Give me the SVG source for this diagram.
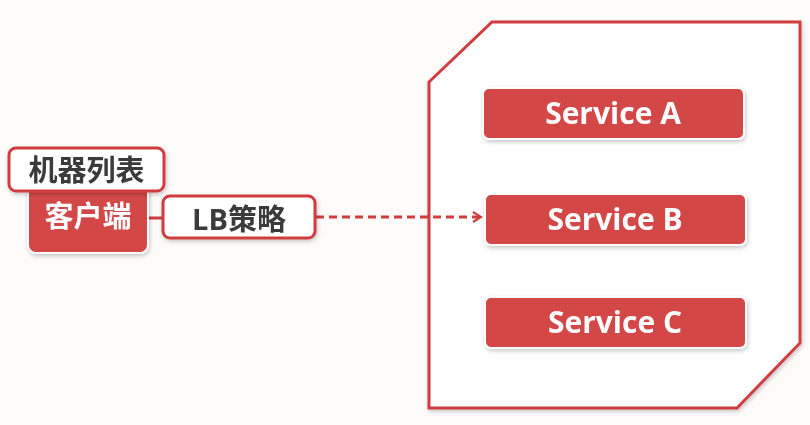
<svg xmlns="http://www.w3.org/2000/svg" width="810" height="425" viewBox="0 0 810 425">
  <style>
    .svc rect { fill: #d44646; stroke: #ffffff; stroke-width: 2; }
    .svc text { fill: #ffffff; font-family: "Open Sans", "Noto Sans", sans-serif; font-weight: 700; font-size: 30px; text-anchor: middle; }
    .tag rect { fill: #ffffff; stroke: #cf3d3f; stroke-width: 3; }
    .tag text { fill: #3a3a3a; font-family: "Open Sans", "Noto Sans CJK SC", sans-serif; font-weight: 700; font-size: 29px; text-anchor: middle; }
    .client text { fill: #ffffff; font-family: "Noto Sans CJK SC", sans-serif; font-weight: 700; font-size: 29px; text-anchor: middle; }
    .conn { stroke: #cf3d3f; stroke-width: 3; fill: none; }
  </style>
  <defs>
    <filter id="shadow" x="-10%" y="-20%" width="130%" height="150%">
      <feDropShadow dx="1" dy="2" stdDeviation="2" flood-color="#000000" flood-opacity="0.22"/>
    </filter>
    <marker id="arrow" viewBox="0 0 12 12" refX="10" refY="6" markerWidth="12" markerHeight="12" markerUnits="userSpaceOnUse" orient="auto">
      <path d="M2,1 L10,6 L2,11" fill="none" stroke="#cf3d3f" stroke-width="2.2"/>
    </marker>
  </defs>

  <rect width="810" height="425" fill="#fdfcfb"/>

  <!-- service cluster outline -->
  <g id="cluster">
    <polygon points="429,82 492,22 800,22 800,343 737,408 429,408" fill="#ffffff" stroke="#cf3d3f" stroke-width="3" filter="url(#shadow)"/>
  </g>

  <!-- connectors -->
  <g id="connectors">
    <line class="conn" x1="148" y1="218" x2="163" y2="218"/>
    <line class="conn" x1="316" y1="217" x2="481" y2="217" stroke-dasharray="8,5" marker-end="url(#arrow)"/>
  </g>

  <g id="service-a" class="svc" filter="url(#shadow)">
    <rect x="483" y="88" width="261" height="51" rx="6"/>
    <text x="613" y="124">Service A</text>
  </g>
  <g id="service-b" class="svc" filter="url(#shadow)">
    <rect x="485" y="194" width="261" height="51" rx="6"/>
    <text x="615" y="230">Service B</text>
  </g>
  <g id="service-c" class="svc" filter="url(#shadow)">
    <rect x="485" y="297" width="261" height="51" rx="6"/>
    <text x="615" y="333">Service C</text>
  </g>

  <g id="client" class="client" filter="url(#shadow)">
    <path d="M28,190 H148 V245 a8,8 0 0 1 -8,8 H36 a8,8 0 0 1 -8,-8 Z" fill="#d44646" stroke="#ffffff" stroke-width="2"/>
    <text x="88" y="227">客户端</text>
  </g>

  <g id="machine-list" class="tag" filter="url(#shadow)">
    <rect x="9" y="148" width="155" height="43" rx="7"/>
    <text x="86.5" y="181">机器列表</text>
  </g>

  <g id="lb-policy" class="tag" filter="url(#shadow)">
    <rect x="163" y="196" width="152" height="42" rx="7"/>
    <text x="239" y="230">LB策略</text>
  </g>
</svg>
